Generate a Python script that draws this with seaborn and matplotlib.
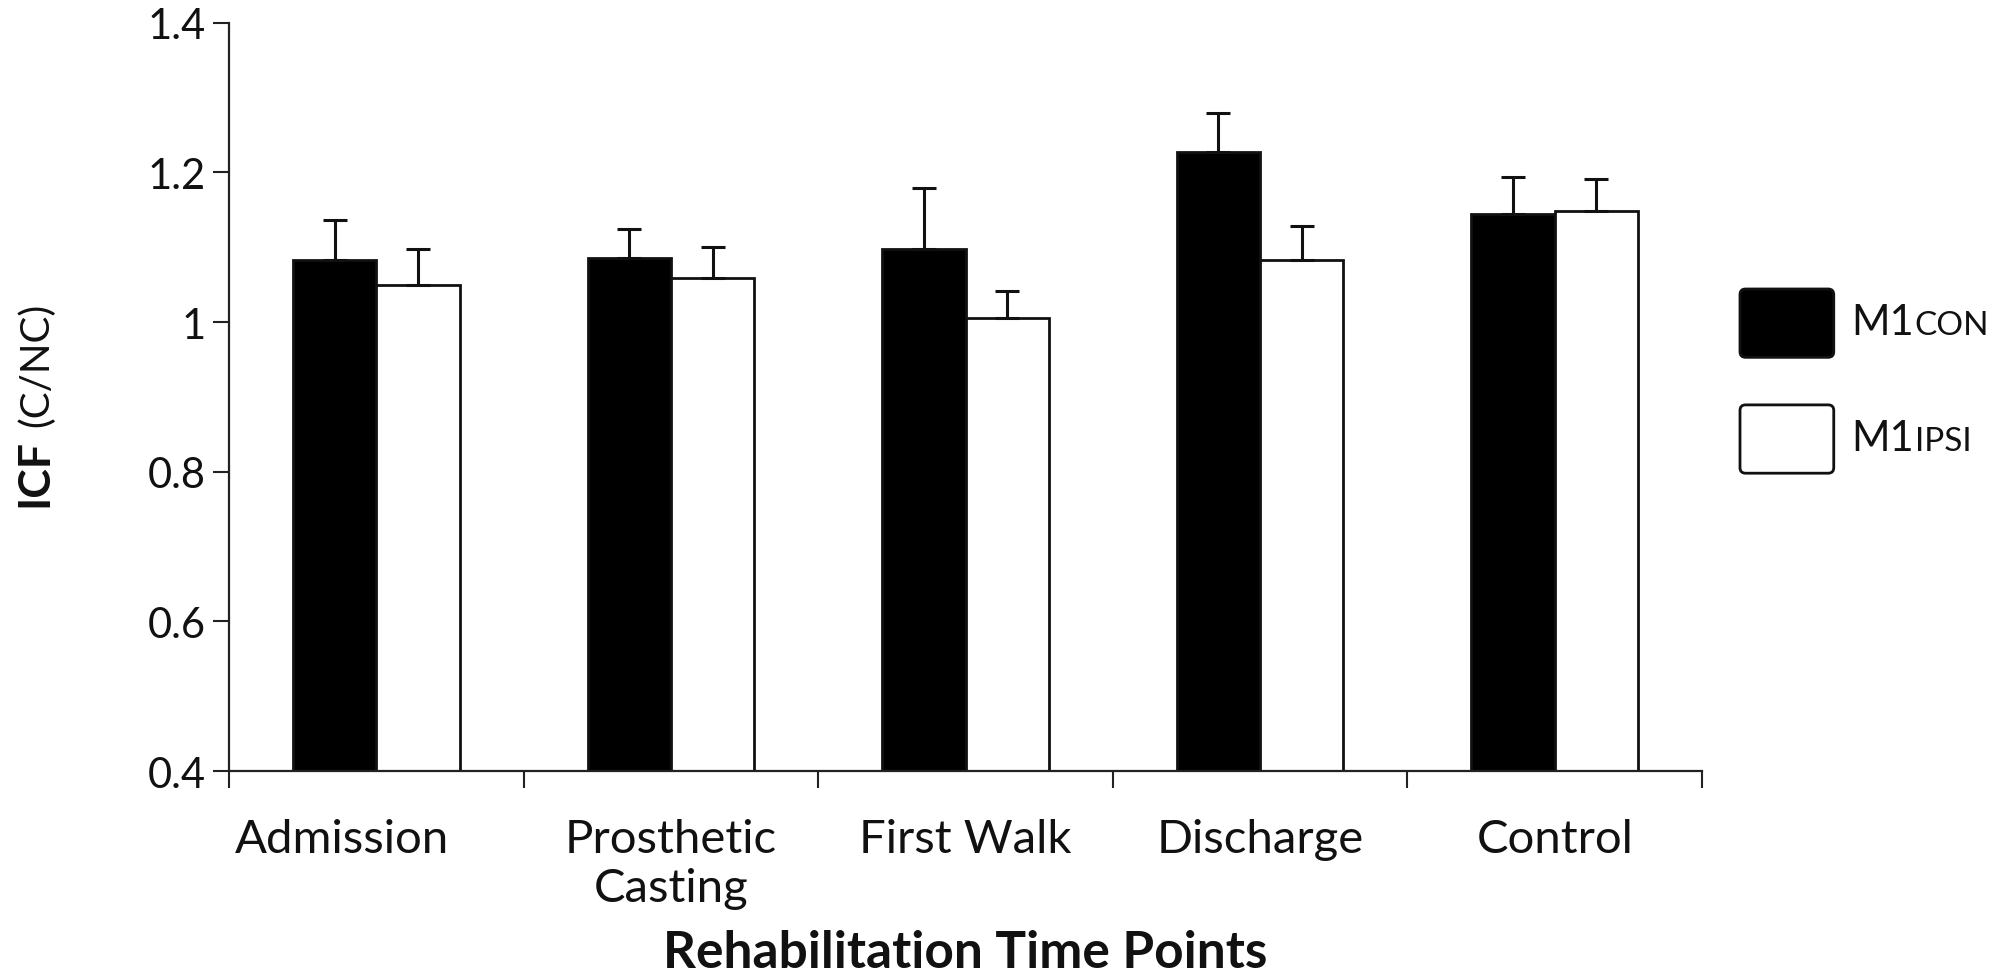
import numpy as np
import pandas as pd
import matplotlib
matplotlib.use("Agg")
import matplotlib.pyplot as plt
from matplotlib.patches import Patch, FancyBboxPatch
from matplotlib.legend_handler import HandlerPatch
from matplotlib.ticker import FixedLocator, FuncFormatter
from matplotlib.transforms import IdentityTransform, ScaledTranslation
import seaborn as sns

# values
time_points = ["Admission", "Prosthetic\nCasting", "First Walk", "Discharge", "Control"]
m1con = [1.083, 1.086, 1.098, 1.227, 1.145]
m1con_err = [0.053, 0.038, 0.081, 0.052, 0.049]
m1ipsi = [1.050, 1.059, 1.005, 1.083, 1.148]
m1ipsi_err = [0.048, 0.041, 0.036, 0.046, 0.043]
series = ["M1CON", "M1IPSI"]
y_ticks = [0.4, 0.6, 0.8, 1.0, 1.2, 1.4]

sns.set_theme(style="white")
plt.rcParams["font.family"] = ["Lato", "DejaVu Sans"]

df = pd.DataFrame({
    "time": time_points * 2,
    "icf": m1con + m1ipsi,
    "side": [series[0]] * 5 + [series[1]] * 5,
})
errs = {series[0]: m1con_err, series[1]: m1ipsi_err}

fig = plt.figure(figsize=(20, 9.78), dpi=100)
ax = fig.add_axes([0.1145, 0.2106, 0.7365, 0.765])

sns.barplot(data=df, x="time", y="icf", hue="side", hue_order=series,
            palette={series[0]: "black", series[1]: "white"},
            edgecolor="#111111", linewidth=2, width=0.565,
            errorbar=None, legend=False, ax=ax)

# upper-only error bars at the centre of each drawn bar
for cont, name in zip(ax.containers, series):
    xs = [p.get_x() + p.get_width() / 2 for p in cont.patches]
    ys = [p.get_height() for p in cont.patches]
    e = errs[name]
    ax.errorbar(xs, ys, yerr=[np.zeros(len(e)), e], fmt="none",
                ecolor="#111111", elinewidth=2.2, capsize=8.5,
                capthick=2.2, zorder=5)

ax.set_ylim(0.4, 1.4)
ax.set_xlim(-0.5, 4.5)
ax.yaxis.set_major_locator(FixedLocator(y_ticks))
ax.yaxis.set_major_formatter(FuncFormatter(lambda v, p: f"{v:g}"))
ax.tick_params(axis="y", which="major", left=True, length=11.5, width=1.5,
               color="#222222", pad=5, labelsize=30, labelcolor="#111111")

ax.set_xticks(range(len(time_points)))
ax.set_xticks(np.arange(-0.5, len(time_points)), minor=True)
ax.tick_params(axis="x", which="major", length=0, pad=34, labelsize=34,
               labelcolor="#111111")
ax.tick_params(axis="x", which="minor", bottom=True, length=12, width=1.5,
               color="#222222")
# the first category label sits a little left of its group in the original
first = ax.get_xticklabels()[0]
first.set_transform(first.get_transform()
                    + ScaledTranslation(-0.34, 0, fig.dpi_scale_trans))

for s in ["top", "right"]:
    ax.spines[s].set_visible(False)
for s in ["left", "bottom"]:
    ax.spines[s].set_linewidth(1.6)
    ax.spines[s].set_color("#222222")

ax.set_ylabel("")
ax.set_xlabel("Rehabilitation Time Points", fontsize=37, fontweight="bold",
              color="#111111")
ax.xaxis.set_label_coords(0.5, -0.211)

fig.text(0.017, 0.516, "ICF", rotation=90, fontsize=32, fontweight="bold",
         ha="center", va="center", color="#111111")
fig.text(0.018, 0.627, "(C/NC)", rotation=90, fontsize=29,
         ha="center", va="center", color="#111111")


def rounded_box(legend, orig_handle, xdescent, ydescent, width, height, fontsize):
    return FancyBboxPatch((-xdescent, -ydescent), width, height,
                          boxstyle="round,pad=0,rounding_size=4")


handles = [Patch(facecolor="black", edgecolor="#111111", linewidth=2),
           Patch(facecolor="white", edgecolor="#111111", linewidth=2)]
leg = fig.legend(handles, ["M1", "M1"], loc="upper left",
                 bbox_to_anchor=(1740 / 2000, 1 - 290 / 978),
                 frameon=False, fontsize=25, handlelength=2.7,
                 handleheight=2.65, labelspacing=1.37, handletextpad=0.5,
                 borderpad=0, borderaxespad=0,
                 handler_map={Patch: HandlerPatch(patch_func=rounded_box)})
for txt in leg.get_texts():
    txt.set_color("#111111")
    txt.set_fontsize(30)

# small-caps tails (CON / IPSI) placed right after each "M1"
fig.canvas.draw()
renderer = fig.canvas.get_renderer()
for txt, name in zip(leg.get_texts(), series):
    bb = txt.get_window_extent(renderer)
    _, _, lp_d = renderer.get_text_width_height_descent(
        "lp", txt.get_fontproperties(), ismath=False)
    fig.text(bb.x1 + 1, bb.y0 + lp_d, name[2:], fontsize=24, ha="left",
             va="baseline", color="#111111", transform=IdentityTransform())

fig.savefig("out.png", dpi=100, facecolor="white")
